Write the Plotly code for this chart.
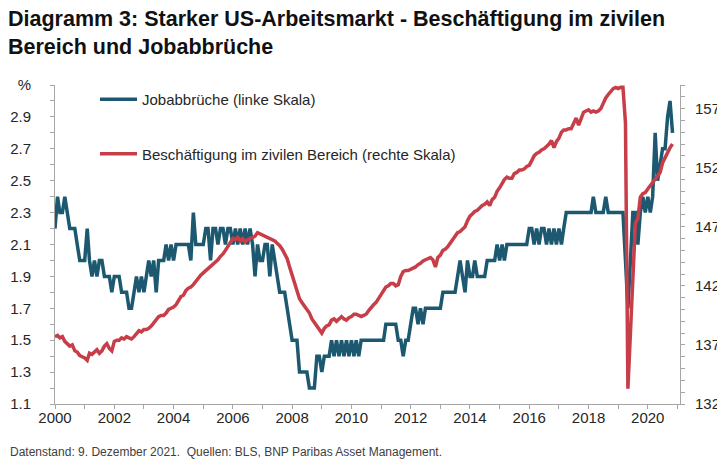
import pandas as pd
import plotly.graph_objects as go

# monthly values, first point at the left edge of the chart (one row = 12 months)
quits_rate = [
    2.2, 2.4, 2.3, 2.3, 2.4, 2.3, 2.2, 2.2, 2.2, 2.1, 2.0, 2.0,
    2.0, 2.2, 2.0, 1.9, 2.0, 1.9, 2.0, 2.0, 1.9, 1.9, 1.9, 1.8,
    1.9, 1.9, 1.9, 1.8, 1.8, 1.8, 1.7, 1.7, 1.8, 1.9, 1.8, 1.9,
    1.8, 1.9, 2.0, 1.9, 2.0, 1.8, 2.0, 2.0, 2.0, 2.1, 2.0, 2.1,
    2.0, 2.1, 2.1, 2.1, 2.1, 2.1, 2.1, 2.0, 2.3, 2.1, 2.1, 2.1,
    2.1, 2.2, 2.2, 2.0, 2.2, 2.2, 2.1, 2.2, 2.2, 2.1, 2.2, 2.2,
    2.1, 2.2, 2.1, 2.2, 2.1, 2.2, 2.1, 2.2, 2.1, 1.9, 2.1, 2.0,
    2.0, 2.1, 2.1, 1.9, 2.1, 2.0, 1.9, 1.8, 1.8, 1.8, 1.7, 1.6,
    1.5, 1.5, 1.5, 1.3, 1.3, 1.3, 1.3, 1.2, 1.2, 1.2, 1.4, 1.4,
    1.3, 1.4, 1.4, 1.4, 1.5, 1.4, 1.5, 1.4, 1.5, 1.4, 1.5, 1.4,
    1.5, 1.4, 1.5, 1.4, 1.5, 1.5, 1.5, 1.5, 1.5, 1.5, 1.5, 1.5,
    1.5, 1.5, 1.6, 1.6, 1.6, 1.6, 1.6, 1.5, 1.5, 1.4, 1.5, 1.5,
    1.6, 1.7, 1.7, 1.6, 1.7, 1.6, 1.7, 1.7, 1.7, 1.7, 1.7, 1.7,
    1.7, 1.8, 1.8, 1.8, 1.8, 1.8, 1.8, 1.9, 2.0, 1.9, 1.8, 2.0,
    1.9, 1.9, 2.0, 1.9, 1.9, 1.9, 1.9, 2.0, 2.0, 2.0, 2.0, 2.1,
    2.0, 2.1, 2.0, 2.1, 2.1, 2.1, 2.1, 2.1, 2.1, 2.1, 2.1, 2.1,
    2.2, 2.2, 2.1, 2.2, 2.1, 2.2, 2.2, 2.1, 2.2, 2.1, 2.2, 2.1,
    2.2, 2.1, 2.2, 2.3, 2.3, 2.3, 2.3, 2.3, 2.3, 2.3, 2.3, 2.3,
    2.3, 2.3, 2.4, 2.3, 2.3, 2.3, 2.3, 2.4, 2.3, 2.3, 2.3, 2.3,
    2.3, 2.3, 2.3, 2.0, 1.7, 2.0, 2.3, 2.3, 2.1, 2.3, 2.4, 2.3,
    2.4, 2.3, 2.4, 2.8, 2.5, 2.6, 2.7, 2.7, 2.9, 3.0, 2.8,
]

employment = [
    137.7, 137.8, 137.6, 137.7, 137.3, 137.1, 136.9, 137.0, 136.5, 136.4, 136.1, 136.0,
    135.9, 135.7, 136.3, 136.2, 136.4, 136.6, 136.3, 136.5, 136.9, 137.1, 136.7, 136.5,
    137.3, 137.4, 137.4, 137.6, 137.5, 137.7, 137.6, 137.5, 137.7, 137.9, 138.2, 138.1,
    138.3, 138.3, 138.4, 138.6, 138.9, 139.1, 139.4, 139.5, 139.5, 139.7, 140.0, 140.1,
    140.2, 140.4, 140.8, 141.1, 141.2, 141.6, 141.8, 141.9, 142.1, 142.4, 142.6, 142.9,
    143.1, 143.3, 143.4, 143.6, 143.8, 144.0, 144.2, 144.5, 144.7, 145.0, 145.3, 145.6,
    146.0, 145.9, 146.1, 145.8, 146.0, 145.7, 145.9, 146.0, 146.1, 146.2, 146.5, 146.4,
    146.3, 146.2, 146.1, 146.0, 145.9, 145.8, 145.6, 145.4, 145.1, 144.7, 144.3, 143.6,
    142.9, 142.2, 141.6, 140.9, 140.6, 140.3, 140.0, 139.7, 139.2, 138.9, 138.5, 138.2,
    138.0, 138.4, 138.6, 138.7, 139.1, 139.2, 139.0, 139.2, 139.4, 139.2, 139.1, 139.3,
    139.4, 139.6, 139.6, 139.5, 139.4, 139.5, 139.6, 139.9, 140.2, 140.4, 140.6, 140.9,
    141.3, 141.6, 141.9, 142.0, 142.2, 142.2, 142.0, 142.1, 142.8, 143.2, 143.3, 143.3,
    143.4, 143.5, 143.6, 143.8, 143.9, 144.1, 144.2, 144.3, 144.4, 144.2, 143.6, 144.4,
    144.6, 145.0, 145.1, 145.3, 145.6, 145.8, 146.1, 146.5, 146.6, 146.8, 147.0, 147.5,
    147.9, 148.1, 148.3, 148.4, 148.6, 148.8, 148.9, 149.1, 148.8, 149.3, 149.5, 150.0,
    150.3, 150.7, 151.0, 151.2, 151.1, 151.1, 151.5, 151.6, 151.8, 151.8, 151.9, 152.1,
    152.2, 152.6, 153.0, 153.2, 153.3, 153.5, 153.6, 153.8, 154.0, 154.3, 153.7, 154.2,
    154.5, 155.0, 155.2, 155.2, 155.3, 155.3, 155.7, 156.2, 155.6, 156.1, 156.7, 156.8,
    156.9, 156.7, 156.8, 156.7, 156.8, 157.0, 157.5, 157.9, 158.2, 158.5, 158.7, 158.8,
    158.7, 158.8, 158.8, 155.8, 133.3, 138.0, 143.5, 147.3, 147.7, 149.5, 149.8, 149.9,
    150.2, 150.5, 150.8, 151.1, 151.4, 151.6, 152.4, 152.9, 153.3, 153.7, 154.0,
]

months = pd.date_range("2000-01-01", periods=len(quits_rate), freq="MS")

left_ticks = [1.1, 1.3, 1.5, 1.7, 1.9, 2.1, 2.3, 2.5, 2.7, 2.9, 3.1]
left_labels = ["1.1", "1.3", "1.5", "1.7", "1.9", "2.1", "2.3", "2.5", "2.7", "2.9", "%"]
right_ticks = [132, 137, 142, 147, 152, 157]

BLUE = "#1c5970"
RED = "#c73e49"
GREY = "#a6a6a6"
FONT = "Liberation Sans, Arial, sans-serif"

fig = go.Figure()
fig.add_trace(
    go.Scatter(
        x=months,
        y=quits_rate,
        mode="lines",
        name="Jobabbrüche (linke Skala)",
        legendgroup="a",
        line=dict(color=BLUE, width=3.5),
    )
)
fig.add_trace(
    go.Scatter(
        x=months,
        y=employment,
        mode="lines",
        name="Beschäftigung im zivilen Bereich (rechte Skala)",
        legendgroup="b",
        yaxis="y2",
        line=dict(color=RED, width=3.5),
    )
)

fig.update_layout(
    width=725,
    height=472,
    template="plotly_white",
    paper_bgcolor="white",
    plot_bgcolor="white",
    font=dict(family=FONT, size=15, color="#262626"),
    margin=dict(l=47, r=53, t=77, b=76, autoexpand=False),
    title=dict(
        text="<b>Diagramm 3: Starker US-Arbeitsmarkt - Beschäftigung im zivilen<br>Bereich und Jobabbrüche</b>",
        x=0,
        xanchor="left",
        y=0.962,
        yanchor="top",
        font=dict(family=FONT, size=21.5, color="#111111"),
    ),
    showlegend=True,
    legend=dict(
        x=0.064,
        y=1.006,
        xanchor="left",
        yanchor="top",
        bgcolor="rgba(0,0,0,0)",
        font=dict(size=15, color="#262626"),
        tracegroupgap=32,
        itemwidth=37,
    ),
    xaxis=dict(
        range=["2000-01-01", "2021-02-01"],
        automargin=False,
        showgrid=False,
        zeroline=False,
        showline=True,
        linecolor=GREY,
        linewidth=1,
        ticks="outside",
        ticklen=4,
        tickcolor=GREY,
        tick0="2000-01-01",
        dtick="M24",
        tickformat="%Y",
        ticklabelstandoff=-4,
        minor=dict(dtick="M12", ticks="outside", ticklen=4, tickcolor=GREY),
    ),
    yaxis=dict(
        range=[1.1, 3.1],
        automargin=False,
        showgrid=False,
        zeroline=False,
        showline=True,
        linecolor=GREY,
        linewidth=1,
        ticks="outside",
        ticklen=4,
        tickcolor=GREY,
        tickmode="array",
        tickvals=left_ticks,
        ticktext=left_labels,
        ticklabelstandoff=16,
        minor=dict(dtick=0.1, tick0=1.1, ticks="outside", ticklen=4, tickcolor=GREY),
    ),
    yaxis2=dict(
        range=[132, 159],
        automargin=False,
        overlaying="y",
        side="right",
        showgrid=False,
        zeroline=False,
        showline=True,
        linecolor=GREY,
        linewidth=1,
        ticks="outside",
        ticklen=4,
        tickcolor=GREY,
        tickmode="array",
        tickvals=right_ticks,
        ticklabelstandoff=7,
        minor=dict(dtick=1, tick0=132, ticks="outside", ticklen=4, tickcolor=GREY),
    ),
)

fig.add_annotation(
    text="Datenstand: 9. Dezember 2021.  Quellen: BLS, BNP Paribas Asset Management.",
    xref="paper",
    yref="paper",
    x=-0.076,
    y=-0.149,
    xanchor="left",
    yanchor="middle",
    showarrow=False,
    font=dict(family=FONT, size=12, color="#404040"),
)

fig.write_html("out.html")
